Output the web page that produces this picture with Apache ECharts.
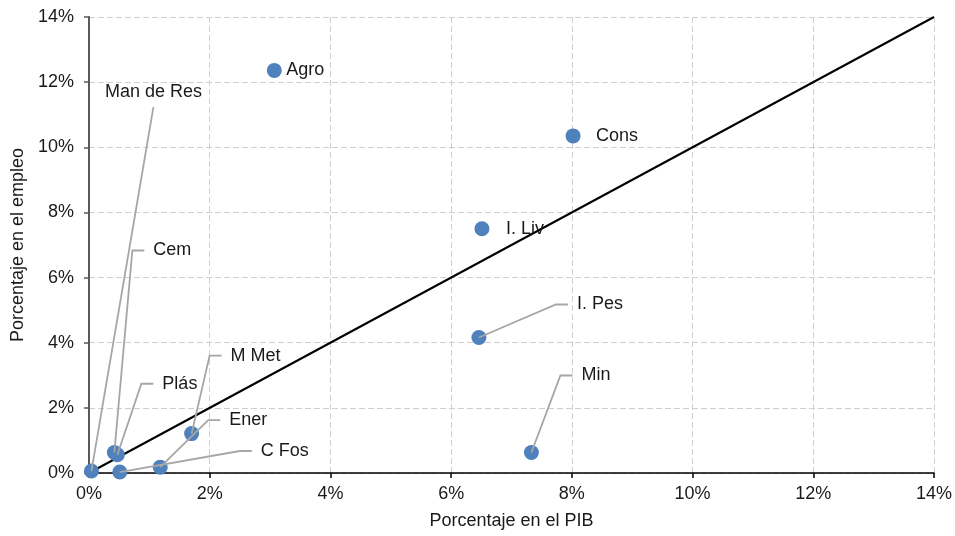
<!DOCTYPE html>
<html>
<head>
<meta charset="utf-8">
<script src="https://cdn.jsdelivr.net/npm/echarts@6/dist/echarts.min.js"></script>
<style>
  html, body { margin: 0; padding: 0; background: #ffffff; }
  #chart { width: 955px; height: 536px; }
</style>
</head>
<body>
<div id="chart"></div>
<script>
// Sectors: share of GDP (%) against share of employment (%)
const sectors  = ['Agro', 'Cons', 'I. Liv', 'I. Pes', 'Min', 'M Met', 'Ener', 'C Fos', 'Plás', 'Cem', 'Man de Res'];
const gdpShare = [3.07, 8.02, 6.51, 6.46, 7.33, 1.70, 1.18, 0.51, 0.47, 0.42, 0.04];
const empShare = [12.36, 10.35, 7.50, 4.16, 0.63, 1.21, 0.18, 0.03, 0.56, 0.63, 0.06];

// Parity line (employment share = GDP share)
const parityX = [0, 14];
const parityY = [0, 14];

// Axis range shared by both axes (percent)
const axisMin = 0;
const axisMax = 14;
const axisStep = 2;

// Label placement in pixels relative to each point.
// kind: 'text' = plain label, 'elbow' = leader with short horizontal run, 'up' = straight leader, label centred above
const labelPlacement = {
  'Agro':       { kind: 'text',  dx: 12,  dy: 0 },
  'Cons':       { kind: 'text',  dx: 23,  dy: 0 },
  'I. Liv':     { kind: 'text',  dx: 24,  dy: 0 },
  'I. Pes':     { kind: 'elbow', dx: 77,  dy: -33 },
  'Min':        { kind: 'elbow', dx: 29,  dy: -77 },
  'M Met':      { kind: 'elbow', dx: 18,  dy: -78 },
  'Ener':       { kind: 'elbow', dx: 48,  dy: -47 },
  'C Fos':      { kind: 'elbow', dx: 120, dy: -21 },
  'Plás':       { kind: 'elbow', dx: 24,  dy: -71 },
  'Cem':        { kind: 'elbow', dx: 18,  dy: -202 },
  'Man de Res': { kind: 'up',    dx: 62,  dy: -364 }
};

const FONT = '"Liberation Sans", Arial, sans-serif';
const textColor = '#1a1a1a';
const leaderColor = '#a6a6a6';

const points = sectors.map((name, i) => [gdpShare[i], empShare[i]]);
const parity = parityX.map((x, i) => [x, parityY[i]]);

function renderLabel(params, api) {
  const name = sectors[params.dataIndex];
  const p = api.coord([api.value(0), api.value(1)]);
  const cfg = labelPlacement[name];
  const font = '18px ' + FONT;
  const children = [];
  if (cfg.kind === 'text') {
    children.push({
      type: 'text',
      style: { text: name, x: p[0] + cfg.dx, y: p[1], font: font, fill: textColor,
               textAlign: 'left', textVerticalAlign: 'middle' }
    });
  } else if (cfg.kind === 'elbow') {
    const ex = p[0] + cfg.dx, ey = p[1] + cfg.dy;
    const run = 12;
    children.push({
      type: 'polyline',
      shape: { points: [p, [ex, ey], [ex + run, ey]] },
      style: { stroke: leaderColor, lineWidth: 1.8, fill: null }
    });
    children.push({
      type: 'text',
      style: { text: name, x: ex + run + 9, y: ey, font: font, fill: textColor,
               textAlign: 'left', textVerticalAlign: 'middle' }
    });
  } else {
    const ex = p[0] + cfg.dx, ey = p[1] + cfg.dy;
    children.push({
      type: 'polyline',
      shape: { points: [p, [ex, ey]] },
      style: { stroke: leaderColor, lineWidth: 1.8, fill: null }
    });
    children.push({
      type: 'text',
      style: { text: name, x: ex, y: ey - 15, font: font, fill: textColor,
               textAlign: 'center', textVerticalAlign: 'middle' }
    });
  }
  return { type: 'group', children: children };
}

const axisCommon = {
  type: 'value',
  min: axisMin,
  max: axisMax,
  interval: axisStep,
  axisTick: { show: true, inside: false, length: 5 },
  axisLabel: { formatter: '{value}%', fontFamily: FONT, fontSize: 18, color: textColor },
  splitLine: { show: true, lineStyle: { color: '#cfcfcf', width: 1, type: [6, 3] } },
  nameLocation: 'middle',
  nameTextStyle: { fontFamily: FONT, fontSize: 18, color: textColor }
};

const chart = echarts.init(document.getElementById('chart'), null, { renderer: 'canvas' });
chart.setOption({
  animation: false,
  backgroundColor: '#ffffff',
  grid: { left: 89, right: 19, top: 17, bottom: 63, containLabel: false },
  xAxis: Object.assign({}, axisCommon, {
    name: 'Porcentaje en el PIB',
    nameGap: 39,
    axisLine: { show: true, onZero: false, lineStyle: { color: '#000000', width: 1.5 } },
    axisTick: { show: true, inside: false, length: 5, lineStyle: { color: '#000000', width: 1.5 } },
    axisLabel: Object.assign({}, axisCommon.axisLabel, { margin: 12 })
  }),
  yAxis: Object.assign({}, axisCommon, {
    name: 'Porcentaje en el empleo',
    nameGap: 62,
    axisLine: { show: true, onZero: false, lineStyle: { color: '#595959', width: 2 } },
    axisTick: { show: true, inside: false, length: 5, lineStyle: { color: '#595959', width: 1.5 } },
    axisLabel: Object.assign({}, axisCommon.axisLabel, { margin: 15 })
  }),
  series: [
    {
      type: 'line',
      data: parity,
      symbol: 'none',
      lineStyle: { color: '#000000', width: 2 },
      z: 3,
      silent: true
    },
    {
      type: 'scatter',
      data: points,
      symbol: 'circle',
      symbolSize: 15,
      itemStyle: { color: '#4f81bd', opacity: 1 },
      z: 4
    },
    {
      type: 'custom',
      data: points,
      renderItem: renderLabel,
      clip: false,
      silent: true,
      z: 5
    }
  ]
});
</script>
</body>
</html>
